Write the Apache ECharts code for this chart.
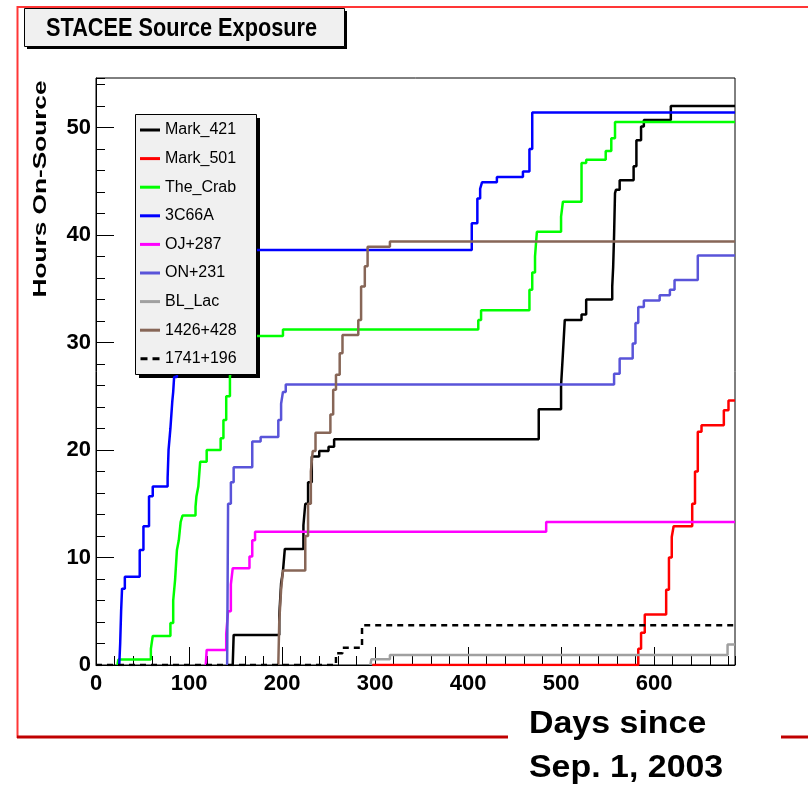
<!DOCTYPE html>
<html>
<head>
<meta charset="utf-8">
<script src="https://cdn.jsdelivr.net/npm/echarts@6/dist/echarts.min.js"></script>
<style>
html,body{margin:0;padding:0;background:#fff;}
#chart{width:808px;height:786px;}
</style>
</head>
<body>
<div id="chart"></div>
<script>
// ---- data: [day, cumulative hours] change points (step plots) ----
const seriesNames = ['Mark_421','Mark_501','The_Crab','3C66A','OJ+287','ON+231','BL_Lac','1426+428','1741+196'];

const mark421 = [[147,0],[148,2.8],[197,4.5],[199,7.6],[201,8.7],[203,10.8],[223,13],[225,15],[228,17],[232,19.4],[240,19.9],[250,20.3],[256,21.0],[476,23.8],[500,26],[502,29],[504,32.1],[522,32.6],[527,34.0],[555,35.2],[556,37],[557,40],[558,43.9],[559,44.2],[563,45.1],[578,46.4],[581,48.8],[586,50.1],[589,50.7],[618,52.0],[687,52.0]];
const mark501 = [[297,0],[583,1.5],[586,3],[590,4.7],[613,7],[616,10],[619,11.9],[621,12.9],[641,15],[644,18],[647,21.7],[651,22.3],[675,23.7],[680,24.6],[687,24.6]];
const theCrab = [[23,0],[24,0.5],[59,1.5],[61,2.7],[80,3.9],[83,6],[85,7.9],[87,10.7],[89,11.6],[91,13.3],[93,13.9],[107,14.7],[108,15.7],[110,16.6],[112,18.9],[119,20.0],[134,21.1],[137,22.8],[140,25],[144,26.8],[146,28.5],[148,30.6],[201,31.2],[411,32.1],[414,33.0],[466,34.9],[469,36.5],[472,38.0],[474,40.3],[500,41.7],[502,43.1],[522,46.7],[527,47.0],[548,47.8],[554,49],[558,50.5],[687,50.5]];
const c3C66A = [[25,0],[26,2],[27,5],[28,7.1],[31,8.2],[47,10.7],[51,12.9],[57,15.7],[61,16.6],[77,17.4],[78,20],[80,22],[82,24.5],[83,25.4],[84,26.8],[87,29],[90,32],[94,35],[98,37],[101,38.6],[404,41.1],[410,43.4],[413,44.3],[415,44.9],[431,45.4],[459,45.9],[466,48],[469,51.4],[687,51.4]];
const oj287 = [[118,0],[119,1.4],[140,2.9],[142,5],[145,7.5],[147,9.0],[165,10.1],[168,11.6],[171,12.4],[484,13.3],[687,13.3]];
const on231 = [[141,0],[142,15.0],[145,17],[148,18.4],[168,20.8],[177,21.2],[196,22.8],[199,24.3],[201,25.4],[204,26.1],[557,27.1],[563,28.5],[577,29.9],[580,31.8],[583,33.3],[589,33.9],[606,34.4],[617,34.9],[622,35.8],[647,38.1],[687,38.1]];
const blLac = [[295,0],[296,0.53],[316,0.93],[679,1.9],[687,1.9]];
const s1426 = [[196,0],[197,4],[199,7],[201,8.8],[225,12],[228,15],[231,18],[233,19.9],[236,21.6],[252,23.3],[255,25.6],[258,27],[262,29],[265,30.7],[282,32.1],[285,35.2],[289,37.1],[292,38.9],[316,39.4],[687,39.4]];
const s1741 = [[0,0],[258,1.1],[265,1.6],[286,3.7],[687,3.7]];

const seriesData = [mark421, mark501, theCrab, c3C66A, oj287, on231, blLac, s1426, s1741];
const seriesColors = ['#000000','#ff0000','#00ff00','#0000ff','#ff00ff','#5954d9','#a0a0a0','#876657','#000000'];

const xTicks = {min:0, max:687, major:100, minor:20};
const yTicks = {min:0, max:54.6, major:10, minor:2};

const FONT = '"Liberation Sans", Arial, sans-serif';
const SOLID_ICON = 'path://M0,0H20V3H0Z';
const DASH_ICON = 'path://M0,0H7V3H0Z M12,0H19V3H12Z';

const chart = echarts.init(document.getElementById('chart'), null, {renderer:'canvas'});

const series = seriesNames.map((name, i) => ({
  name: name,
  type: 'line',
  step: 'end',
  symbol: 'none',
  data: seriesData[i],
  xAxisIndex: 0,
  yAxisIndex: 0,
  clip: true,
  color: seriesColors[i],
  lineStyle: {color: seriesColors[i], width: 2.5, type: name === '1741+196' ? [6,5] : 'solid'},
  itemStyle: {color: seriesColors[i]},
  emphasis: {disabled: true},
  animation: false
}));

const option = {
  backgroundColor: '#ffffff',
  animation: false,
  grid: {left: 96, top: 78, width: 639, height: 587, show: true, borderColor: '#000', borderWidth: 1, backgroundColor: 'transparent'},
  legend: {
    orient: 'vertical', left: 135, top: 114,
    padding: [6, 5, 6, 5],
    itemWidth: 20, itemHeight: 3, itemGap: 8.6,
    textStyle: {fontFamily: FONT, fontSize: 16, lineHeight: 20, color: '#000'},
    data: seriesNames.map(n => ({name: n, icon: n === '1741+196' ? DASH_ICON : SOLID_ICON})),
    selectedMode: false,
    z: 5
  },
  xAxis: [
    {type: 'value', min: xTicks.min, max: xTicks.max, interval: xTicks.major, position: 'bottom',
     axisLine: {show: true, lineStyle: {color: '#000', width: 1}},
     axisTick: {show: true, inside: true, length: 18, lineStyle: {color: '#000', width: 1}},
     axisLabel: {show: true, showMaxLabel: false, margin: 8, fontFamily: FONT, fontWeight: 'bold', fontSize: 22, color: '#000'},
     splitLine: {show: false}},
    {type: 'value', min: xTicks.min, max: xTicks.max, interval: xTicks.minor, position: 'bottom',
     axisLine: {show: false},
     axisTick: {show: true, inside: true, length: 9, lineStyle: {color: '#000', width: 1}},
     axisLabel: {show: false}, splitLine: {show: false}}
  ],
  yAxis: [
    {type: 'value', min: yTicks.min, max: yTicks.max, interval: yTicks.major, position: 'left',
     axisLine: {show: true, lineStyle: {color: '#000', width: 1}},
     axisTick: {show: true, inside: true, length: 18, lineStyle: {color: '#000', width: 1}},
     axisLabel: {show: true, showMaxLabel: false, margin: 5, fontFamily: FONT, fontWeight: 'bold', fontSize: 22, color: '#000'},
     splitLine: {show: false}},
    {type: 'value', min: yTicks.min, max: yTicks.max, interval: yTicks.minor, position: 'left', offset: 0,
     axisLine: {show: false},
     axisTick: {show: true, inside: true, length: 9, lineStyle: {color: '#000', width: 1}},
     axisLabel: {show: false}, splitLine: {show: false}}
  ],
  graphic: [
    // outer red frame
    {type: 'line', shape: {x1: 17.5, y1: 6, x2: 17.5, y2: 738}, style: {stroke: '#ff3636', lineWidth: 2}, z: 0},
    {type: 'line', shape: {x1: 17, y1: 7, x2: 808, y2: 7}, style: {stroke: '#ff3636', lineWidth: 2}, z: 0},
    {type: 'line', shape: {x1: 17, y1: 737, x2: 508, y2: 737}, style: {stroke: '#c00000', lineWidth: 3}, z: 0},
    {type: 'line', shape: {x1: 781, y1: 737, x2: 808, y2: 737}, style: {stroke: '#c00000', lineWidth: 3}, z: 0},
    // title box
    {type: 'rect', shape: {x: 27, y: 11, width: 320, height: 38}, style: {fill: '#000'}, z: 1},
    {type: 'rect', shape: {x: 24.5, y: 8.5, width: 320, height: 38}, style: {fill: '#f0f0f0', stroke: '#000', lineWidth: 1}, z: 2},
    {type: 'text', x: 46, y: 28.5, scaleX: 0.835,
     style: {text: 'STACEE Source Exposure', fill: '#000', font: 'bold 26px "Liberation Sans", sans-serif', align: 'left', verticalAlign: 'middle', textAlign: 'left', textVerticalAlign: 'middle'}, z: 3},
    // legend box
    {type: 'rect', shape: {x: 139, y: 118, width: 121, height: 260}, style: {fill: '#000'}, z: 3},
    {type: 'rect', shape: {x: 135.5, y: 114.5, width: 121, height: 260}, style: {fill: '#f0f0f0', stroke: '#000', lineWidth: 1}, z: 4},
    // axis titles
    {type: 'text', x: 41, y: 189, rotation: Math.PI / 2, scaleX: 1.38,
     style: {text: 'Hours On-Source', fill: '#000', font: 'bold 19px "Liberation Sans", sans-serif', align: 'center', verticalAlign: 'middle', textAlign: 'center', textVerticalAlign: 'middle'}, z: 6},
    {type: 'text', x: 529, y: 724, scaleX: 1.06,
     style: {text: 'Days since', fill: '#000', font: 'bold 32px "Liberation Sans", sans-serif', align: 'left', verticalAlign: 'middle', textAlign: 'left', textVerticalAlign: 'middle'}, z: 6},
    {type: 'text', x: 529, y: 768, scaleX: 1.06,
     style: {text: 'Sep. 1, 2003', fill: '#000', font: 'bold 32px "Liberation Sans", sans-serif', align: 'left', verticalAlign: 'middle', textAlign: 'left', textVerticalAlign: 'middle'}, z: 6}
  ],
  series: series
};

chart.setOption(option);
</script>
</body>
</html>
